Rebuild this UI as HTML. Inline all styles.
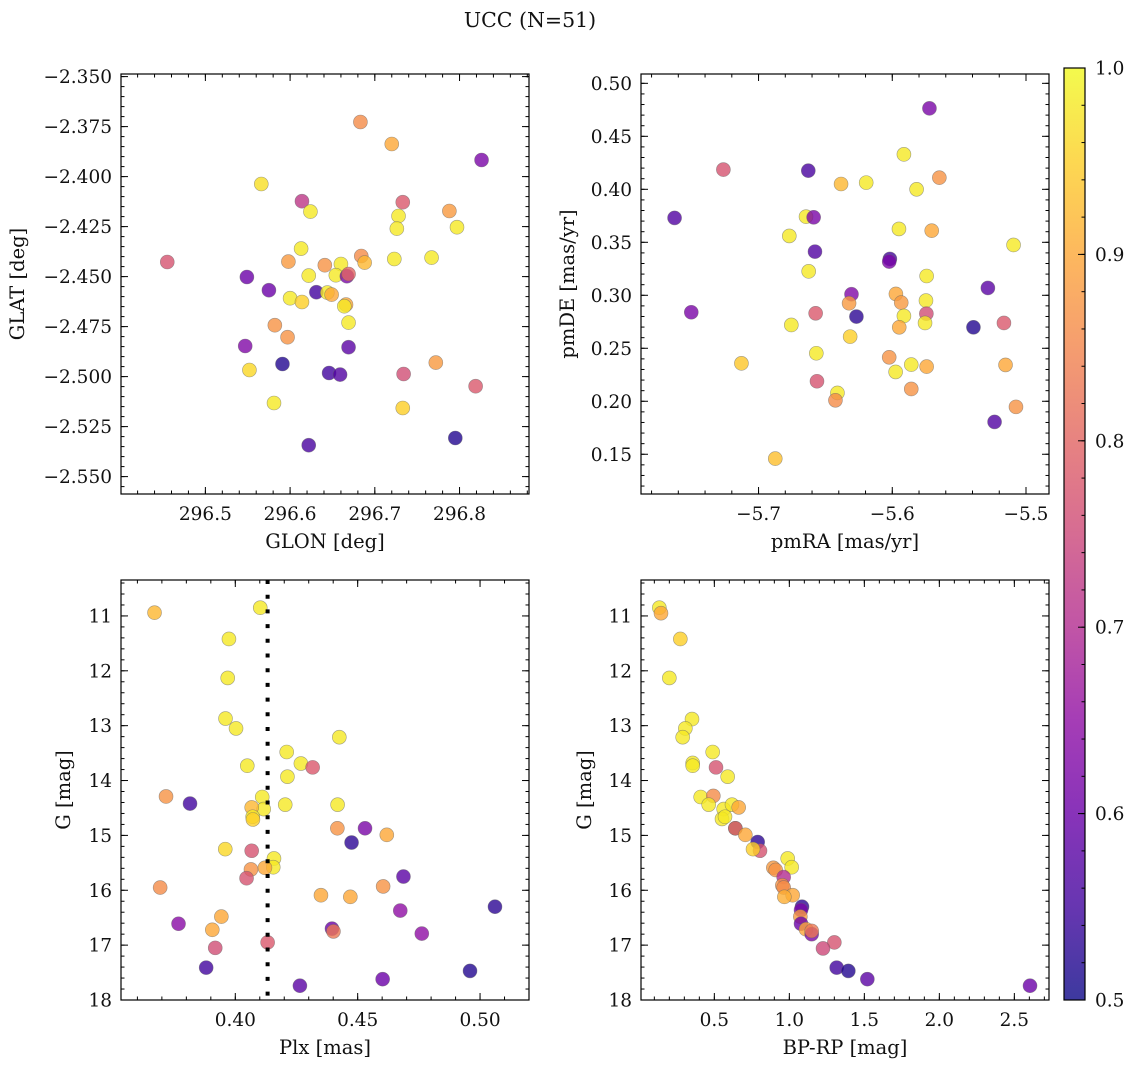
<!DOCTYPE html>
<html><head><meta charset="utf-8">
<style>
body{margin:0;background:#fff;}
svg text{font-family:"DejaVu Serif","Liberation Serif",serif;fill:#111;}
</style></head>
<body>
<svg id="fig" width="1136" height="1068" viewBox="0 0 1136 1068" xmlns="http://www.w3.org/2000/svg">
<text x="530" y="27" font-size="20.5" text-anchor="middle">UCC (N=51)</text>
</svg>
<script>
// ---- Panel 1: GLON vs GLAT ----
const p1Glon=[296.683,296.720,296.826,296.566,296.614,296.624,296.733,296.788,296.728,296.726,296.797,296.613,296.455,296.598,296.641,296.660,296.684,296.688,296.723,296.767,296.549,296.622,296.654,296.667,296.669,296.575,296.631,296.644,296.649,296.600,296.614,296.666,296.664,296.669,296.582,296.597,296.547,296.669,296.591,296.552,296.646,296.659,296.734,296.772,296.819,296.581,296.733,296.622,296.795];
const p1Glat=[-2.3727,-2.3837,-2.3917,-2.4037,-2.4123,-2.4175,-2.4128,-2.4172,-2.4197,-2.426,-2.4253,-2.436,-2.4427,-2.4425,-2.4443,-2.4437,-2.4397,-2.443,-2.4412,-2.4405,-2.4502,-2.4495,-2.4493,-2.4498,-2.4487,-2.4568,-2.4578,-2.458,-2.459,-2.4608,-2.4627,-2.464,-2.4648,-2.473,-2.4743,-2.4803,-2.4847,-2.4853,-2.4937,-2.4967,-2.4982,-2.499,-2.4987,-2.493,-2.5048,-2.5132,-2.5157,-2.5343,-2.5307];
const p1Prob=[0.86,0.9,0.62,0.97,0.72,0.98,0.78,0.88,0.98,0.98,0.98,0.98,0.77,0.88,0.87,0.98,0.86,0.92,0.98,0.98,0.6,0.98,0.98,0.62,0.8,0.6,0.55,0.98,0.9,0.98,0.95,0.9,0.98,0.98,0.87,0.87,0.63,0.58,0.52,0.96,0.55,0.57,0.76,0.88,0.78,0.98,0.95,0.56,0.52];
// ---- Panel 2: pmRA vs pmDE ----
const p2PmRA=[-5.5722,-5.5913,-5.7263,-5.6628,-5.5648,-5.6383,-5.6195,-5.5818,-5.7628,-5.6645,-5.6588,-5.677,-5.595,-5.5705,-5.5093,-5.6578,-5.6018,-5.6023,-5.6625,-5.5743,-5.5285,-5.6305,-5.6323,-5.5973,-5.5933,-5.5748,-5.7503,-5.6573,-5.5745,-5.6268,-5.5913,-5.5948,-5.5755,-5.6755,-5.5393,-5.5165,-5.6315,-5.6568,-5.6023,-5.7128,-5.5858,-5.5743,-5.5153,-5.5975,-5.6563,-5.5858,-5.641,-5.6425,-5.5075,-5.5235,-5.6875];
const p2PmDE=[0.4764,0.433,0.4186,0.4176,0.411,0.405,0.4063,0.4,0.373,0.3742,0.3736,0.356,0.3626,0.361,0.3475,0.3412,0.3343,0.3318,0.3226,0.3182,0.3069,0.301,0.2925,0.3013,0.2931,0.295,0.284,0.283,0.2827,0.2799,0.2805,0.2698,0.2739,0.272,0.2698,0.2739,0.261,0.2453,0.2415,0.2358,0.2346,0.2327,0.2343,0.2277,0.2189,0.2116,0.2079,0.2009,0.1947,0.1805,0.1459];
const p2Prob=[0.62,0.98,0.77,0.56,0.87,0.92,0.98,0.98,0.57,0.98,0.62,0.98,0.98,0.9,0.98,0.57,0.55,0.62,0.98,0.98,0.58,0.63,0.88,0.9,0.88,0.98,0.62,0.78,0.76,0.53,0.98,0.9,0.98,0.98,0.52,0.78,0.95,0.98,0.87,0.94,0.98,0.9,0.9,0.98,0.77,0.87,0.98,0.86,0.87,0.57,0.93];
// ---- Panel 3: Plx vs G ----
const p3Plx=[0.3670,0.4102,0.3974,0.3969,0.3960,0.4003,0.4425,0.4210,0.4268,0.4316,0.4049,0.4213,0.3717,0.3815,0.4110,0.4116,0.4067,0.4071,0.4072,0.4204,0.4418,0.4417,0.4530,0.4619,0.4475,0.3959,0.4067,0.4158,0.4155,0.4121,0.4064,0.4046,0.4687,0.3693,0.4604,0.4350,0.4470,0.5061,0.4674,0.3943,0.3768,0.3906,0.4395,0.4401,0.4762,0.3918,0.4132,0.3881,0.4959,0.4602,0.4264];
const p3G=[10.94,10.85,11.42,12.13,12.87,13.05,13.21,13.48,13.69,13.76,13.73,13.93,14.29,14.42,14.30,14.52,14.49,14.66,14.71,14.44,14.44,14.87,14.87,14.99,15.13,15.25,15.28,15.42,15.58,15.59,15.62,15.78,15.75,15.95,15.93,16.09,16.12,16.30,16.37,16.48,16.61,16.72,16.70,16.75,16.79,17.05,16.95,17.41,17.47,17.62,17.74];
const p3Prob=[0.92,0.98,0.98,0.98,0.98,0.98,0.98,0.98,0.98,0.78,0.98,0.98,0.87,0.55,0.98,0.98,0.92,0.98,0.95,0.98,0.98,0.87,0.62,0.9,0.53,0.96,0.77,0.98,0.98,0.9,0.87,0.77,0.58,0.86,0.87,0.9,0.9,0.53,0.65,0.9,0.64,0.9,0.6,0.83,0.65,0.76,0.78,0.55,0.52,0.6,0.58];
const p3PlxLine=0.4132;
// ---- Panel 4: BP-RP vs G ----
const p4BpRp=[0.1333,0.1444,0.2733,0.2,0.3511,0.3067,0.2889,0.4889,0.3556,0.3556,0.5111,0.5889,0.4089,0.4933,0.4622,0.5622,0.6178,0.6622,0.5511,0.5711,0.64,0.64,0.7067,0.7889,0.8044,0.7578,0.9889,1.0156,0.8933,0.9089,0.9622,0.9533,0.9622,1.0222,0.9667,1.0844,1.0778,1.0733,1.0778,1.1111,1.1489,1.1489,1.30,1.2244,1.3156,1.3933,1.52,2.6044];
const p4G=[10.85,10.95,11.42,12.13,12.88,13.05,13.21,13.48,13.68,13.73,13.76,13.93,14.30,14.28,14.44,14.52,14.44,14.49,14.70,14.66,14.87,14.87,14.99,15.12,15.28,15.25,15.42,15.58,15.59,15.63,15.76,15.91,15.95,16.09,16.12,16.30,16.36,16.48,16.61,16.71,16.80,16.74,16.95,17.06,17.41,17.47,17.62,17.74];
const p4Prob=[0.98,0.9,0.95,0.98,0.98,0.98,0.98,0.98,0.98,0.98,0.77,0.98,0.98,0.86,0.98,0.98,0.98,0.9,0.98,0.98,0.55,0.83,0.9,0.53,0.77,0.95,0.98,0.98,0.88,0.87,0.7,0.87,0.86,0.9,0.91,0.53,0.62,0.88,0.6,0.9,0.62,0.83,0.77,0.75,0.55,0.52,0.58,0.6];
// ---- Colorbar ----
const cbTicks=[0.5,0.6,0.7,0.8,0.9,1.0];

const NS="http://www.w3.org/2000/svg";
const svg=document.getElementById('fig');
const TICKFS=18.5, LABFS=19.5;
function mk(tag,attrs,parent){const e=document.createElementNS(NS,tag);for(const k in attrs)e.setAttribute(k,attrs[k]);(parent||svg).appendChild(e);return e;}
const PL=[[13,8,135],[65,4,157],[106,0,168],[143,13,164],[177,42,144],[204,71,120],[225,100,98],[242,132,75],[252,166,54],[252,206,37],[240,249,33]];
function plasma(t){t=Math.max(0,Math.min(1,t))*10;const i=Math.min(9,Math.floor(t));const f=t-i;const a=PL[i],b=PL[i+1];return [0,1,2].map(k=>a[k]+(b[k]-a[k])*f);}
function colorFor(p){const c=plasma((p-0.5)/0.5);return 'rgb('+c.map(v=>Math.round(v)).join(',')+')';}
function blendWhite(p){const c=plasma((p-0.5)/0.5);return 'rgb('+c.map(v=>Math.round(v*0.8+255*0.2)).join(',')+')';}
function fmtNum(v,d){const s=Math.abs(v).toFixed(d);return (v<-1e-9?'\u2212':'')+s;}

function panel(cfg){
  const [L,T,R,B]=cfg.box;
  const sx=v=>L+(v-cfg.xlim[0])/(cfg.xlim[1]-cfg.xlim[0])*(R-L);
  const sy=v=>B-(v-cfg.ylim[0])/(cfg.ylim[1]-cfg.ylim[0])*(B-T);
  const g=mk('g',{});
  
  
  const clip=mk('clipPath',{id:'clip-'+cfg.name},g);
  mk('rect',{x:L,y:T,width:R-L,height:B-T},clip);
  const pts=mk('g',{'clip-path':'url(#clip-'+cfg.name+')'},g);
  
  
  for(let i=0;i<cfg.xs.length;i++){
    const c=mk('circle',{cx:sx(cfg.xs[i]).toFixed(2),cy:sy(cfg.ys[i]).toFixed(2),r:7,fill:colorFor(cfg.cs[i]),'fill-opacity':0.8,stroke:'#666','stroke-opacity':0.6,'stroke-width':0.6},pts);
    
    
  }
  if(cfg.vline!==undefined){
    const ln=mk('line',{x1:sx(cfg.vline),x2:sx(cfg.vline),y1:T,y2:B,stroke:'#000','stroke-width':4,'stroke-dasharray':'4,10.7'},pts);
    
    
  }
  const fr=mk('rect',{x:L,y:T,width:R-L,height:B-T,fill:'none',stroke:'#000','stroke-width':1.2},g);
  
  
  const tk=mk('g',{stroke:'#000','stroke-width':1},g);
  const xmn=Math.ceil(cfg.xlim[0]/cfg.xMinor-1e-6),xmx=Math.floor(cfg.xlim[1]/cfg.xMinor+1e-6);
  for(let k=xmn;k<=xmx;k++){const v=k*cfg.xMinor;const x=sx(v);
    mk('line',{x1:x,x2:x,y1:B,y2:B-3.5},tk);mk('line',{x1:x,x2:x,y1:T,y2:T+3.5},tk);}
  cfg.xMajor.forEach(v=>{const x=sx(v);
    mk('line',{x1:x,x2:x,y1:B,y2:B-7},tk);mk('line',{x1:x,x2:x,y1:T,y2:T+7},tk);
    const t=mk('text',{x:x,y:B+26,'font-size':TICKFS,'text-anchor':'middle'},g);t.textContent=fmtNum(v,cfg.xDec);
    });
  const ymn=Math.ceil(Math.min(...cfg.ylim)/cfg.yMinor-1e-6),ymx=Math.floor(Math.max(...cfg.ylim)/cfg.yMinor+1e-6);
  for(let k=ymn;k<=ymx;k++){const v=k*cfg.yMinor;const y=sy(v);
    mk('line',{x1:L,x2:L+3.5,y1:y,y2:y},tk);mk('line',{x1:R,x2:R-3.5,y1:y,y2:y},tk);}
  cfg.yMajor.forEach(v=>{const y=sy(v);
    mk('line',{x1:L,x2:L+7,y1:y,y2:y},tk);mk('line',{x1:R,x2:R-7,y1:y,y2:y},tk);
    const t=mk('text',{x:L-9,y:y+6.5,'font-size':TICKFS,'text-anchor':'end'},g);t.textContent=fmtNum(v,cfg.yDec);
    });
  const xl=mk('text',{x:(L+R)/2,y:B+54,'font-size':LABFS,'text-anchor':'middle'},g);xl.textContent=cfg.xlabel;
  
  const yl=mk('text',{x:0,y:0,'font-size':LABFS,'text-anchor':'middle',transform:'translate('+cfg.ylx+','+(T+B)/2+') rotate(-90)'},g);yl.textContent=cfg.ylabel;
  
}
function rng(a,b,s){const out=[];const n=Math.round((b-a)/s);for(let i=0;i<=n;i++)out.push(a+i*s);return out;}

panel({name:'glon-glat-panel',box:[121,74,529,494],xlim:[296.4004,296.882],ylim:[-2.5587,-2.3487],xs:p1Glon,ys:p1Glat,cs:p1Prob,
  xMajor:rng(296.5,296.8,0.1),xMinor:0.02,xDec:1,yMajor:rng(-2.55,-2.35,0.025),yMinor:0.005,yDec:3,xlabel:'GLON [deg]',ylabel:'GLAT [deg]',ylx:24});
panel({name:'pm-panel',box:[641,74,1049,494],xlim:[-5.7879,-5.4828],ylim:[0.1125,0.5088],xs:p2PmRA,ys:p2PmDE,cs:p2Prob,
  xMajor:rng(-5.7,-5.5,0.1),xMinor:0.02,xDec:1,yMajor:rng(0.15,0.5,0.05),yMinor:0.01,yDec:2,xlabel:'pmRA [mas/yr]',ylabel:'pmDE [mas/yr]',ylx:574});
panel({name:'plx-g-panel',box:[121,580,529,1000],xlim:[0.3533,0.52],ylim:[18,10.345],xs:p3Plx,ys:p3G,cs:p3Prob,vline:p3PlxLine,
  xMajor:rng(0.4,0.5,0.05),xMinor:0.01,xDec:2,yMajor:rng(11,18,1),yMinor:0.2,yDec:0,xlabel:'Plx [mas]',ylabel:'G [mag]',ylx:70});
panel({name:'cmd-panel',box:[641,580,1049,1000],xlim:[0.0111,2.731],ylim:[18,10.345],xs:p4BpRp,ys:p4G,cs:p4Prob,
  xMajor:rng(0.5,2.5,0.5),xMinor:0.1,xDec:1,yMajor:rng(11,18,1),yMinor:0.2,yDec:0,xlabel:'BP-RP [mag]',ylabel:'G [mag]',ylx:591});

(function(){
  const L=1064,R=1085,T=68,B=1000;
  const cy=v=>B-(v-0.5)/0.5*(B-T);
  const defs=mk('defs',{});
  const lg=mk('linearGradient',{id:'cbgrad',x1:0,y1:1,x2:0,y2:0},defs);
  for(let i=0;i<=20;i++){const p=0.5+i*0.025;mk('stop',{offset:(i/20),'stop-color':blendWhite(p)},lg);}
  const g=mk('g',{});
  
  
  mk('rect',{x:L,y:T,width:R-L,height:B-T,fill:'url(#cbgrad)',stroke:'#000','stroke-width':1.2},g);
  for(let k=25;k<=50;k++){const y=cy(k*0.02);mk('line',{x1:R,x2:R-3.5,y1:y,y2:y,stroke:'#000'},g);}
  cbTicks.forEach(v=>{const y=cy(v);mk('line',{x1:R,x2:R-7,y1:y,y2:y,stroke:'#000'},g);
    const t=mk('text',{x:R+10,y:y+6.5,'font-size':TICKFS},g);t.textContent=v.toFixed(1);
    });
})();
</script>
</body></html>
